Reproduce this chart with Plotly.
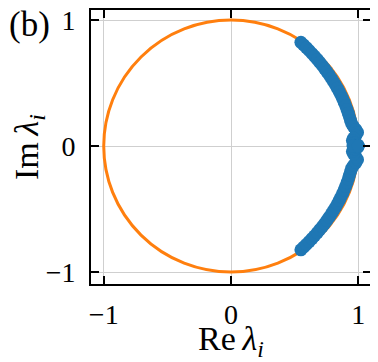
import numpy as np
import plotly.graph_objects as go

# eigenvalues, upper half-plane (conjugate pairs), read as angle [deg] and modulus
eig_angle_deg = [56.3, 54.6, 52.8, 51.0, 49.1, 47.3, 45.4, 43.6, 41.7, 39.9,
                 38.0, 36.2, 34.3, 32.5, 30.6, 28.8, 26.9, 25.1, 23.2, 21.4,
                 19.5, 17.7, 15.8, 14.0, 12.2, 10.5, 9.0, 7.6, 6.2, 5.0,
                 3.8, 2.6, 1.5, 0.6, 0.0, 0.0]
eig_radius = [0.990, 0.985, 0.980, 0.976, 0.972, 0.969, 0.966, 0.963, 0.961, 0.959,
              0.957, 0.956, 0.955, 0.954, 0.954, 0.954, 0.954, 0.954, 0.955, 0.955,
              0.956, 0.957, 0.958, 0.959, 0.961, 0.965, 0.975, 0.990, 1.000, 0.985,
              0.965, 0.955, 0.975, 0.995, 0.960, 1.000]

tick_vals = [-1, 0, 1]
tick_text = ["\u22121", "0", "1"]

th = np.deg2rad(eig_angle_deg)
r = np.array(eig_radius)
re_up = r * np.cos(th)
im_up = r * np.sin(th)
re_all = np.concatenate([re_up, re_up])
im_all = np.concatenate([im_up, -im_up])

fig = go.Figure()

# unit circle
fig.add_shape(type="circle", xref="x", yref="y", x0=-1, y0=-1, x1=1, y1=1,
              line=dict(color="#ff7f0e", width=3), layer="between")

fig.add_trace(go.Scatter(
    x=re_all, y=im_all, mode="markers",
    marker=dict(color="#1f77b4", size=13, line=dict(width=0)),
    showlegend=False, hoverinfo="skip",
))

axis_style = dict(
    showline=True, linecolor="black", linewidth=1.8, mirror="ticks",
    ticks="inside", ticklen=8, tickwidth=1.5, tickcolor="black",
    tickvals=tick_vals, ticktext=tick_text, automargin=False,
    ticklabeloverflow="allow",
    showgrid=True, gridcolor="#cfcfcf", gridwidth=1, zeroline=False,
)

fig.update_xaxes(**axis_style, range=[-1.1, 1.1], ticklabelstandoff=4,
                 title=dict(text="Re\u2009<i>λ</i><sub><i>i</i></sub>", standoff=2))
fig.update_yaxes(**axis_style, range=[-1.095, 1.08], ticklabelstandoff=8,
                 title=dict(text="Im\u2009<i>λ</i><sub><i>i</i></sub>", standoff=4))

fig.add_annotation(text="(b)", xref="paper", yref="paper", x=-0.30, y=0.948,
                   xanchor="left", yanchor="middle", showarrow=False,
                   font=dict(size=35))

# page body has an 8px margin, so the figure is shrunk to fit the window
fig.update_layout(
    width=370, height=354,
    margin=dict(l=83, r=7, t=2, b=78),
    font=dict(family="Liberation Serif", size=28, color="black"),
    plot_bgcolor="white", paper_bgcolor="white",
)

fig.write_html("out.html")
